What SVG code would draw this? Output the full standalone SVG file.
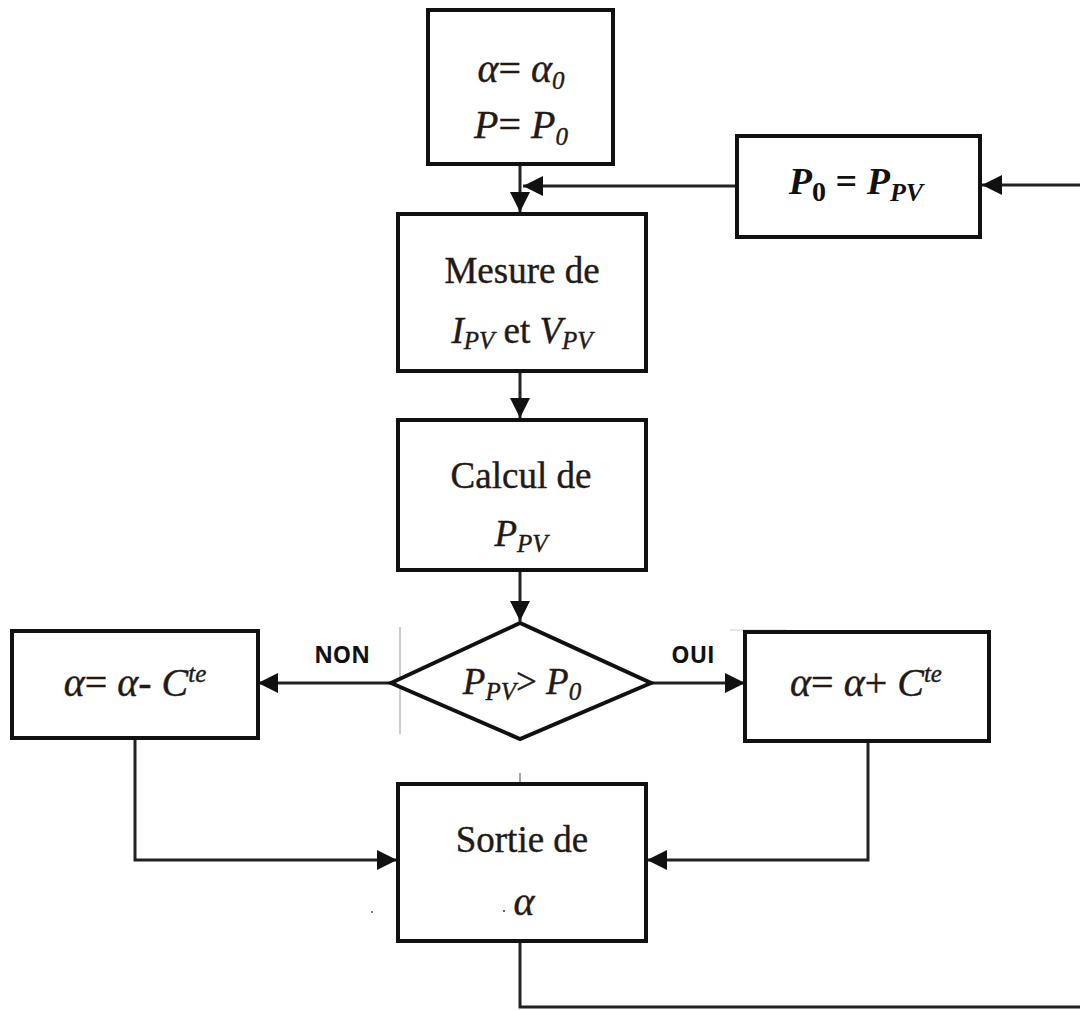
<svg xmlns="http://www.w3.org/2000/svg" width="1080" height="1010" viewBox="0 0 1080 1010">
<style>
.box{fill:#fff;stroke:#111;stroke-width:4}
.ln{fill:none;stroke:#222;stroke-width:3}
.t{font-family:"Liberation Serif",serif;font-size:37px;fill:#231a16;stroke:#231a16;stroke-width:0.4}
.m{font-size:40px}
.i{font-style:italic}
.s{font-size:25px;font-style:italic}
.lbl{font-family:"Open Sans","Liberation Sans",sans-serif;font-weight:bold;font-size:23px;fill:#111}
.bm{font-family:"Liberation Serif",serif;font-weight:bold;font-style:italic;font-size:38px;fill:#111}
</style>
<defs>
<marker id="ah" markerUnits="userSpaceOnUse" markerWidth="22" markerHeight="22" refX="20" refY="10" orient="auto">
<path d="M0,0 L20,10 L0,20 Z" fill="#111"/>
</marker>
</defs>
<rect width="1080" height="1010" fill="#fff"/>
<g id="connectors">
<path class="ln" d="M520,165 V212" marker-end="url(#ah)"/>
<path class="ln" d="M737,186 H523" marker-end="url(#ah)"/>
<path class="ln" d="M1080,185 H982" marker-end="url(#ah)"/>
<path class="ln" d="M520,372 V418" marker-end="url(#ah)"/>
<path class="ln" d="M520,571 V621" marker-end="url(#ah)"/>
<path class="ln" d="M391,683 H258" marker-end="url(#ah)"/>
<path class="ln" d="M651,683 H745" marker-end="url(#ah)"/>
<path class="ln" d="M135,738 V860 H397" marker-end="url(#ah)"/>
<path class="ln" d="M868,741 V860 H647" marker-end="url(#ah)"/>
<path class="ln" d="M520,941 V1007 H1080"/>
<line x1="400" y1="627" x2="400" y2="734" stroke="#999" stroke-width="1"/>
<line x1="730" y1="630" x2="786" y2="630" stroke="#ccc" stroke-width="1"/>
<line x1="520" y1="773" x2="520" y2="782" stroke="#888" stroke-width="1.5"/>
<circle cx="372" cy="912" r="1" fill="#555"/>
</g>
<g id="init">
<rect class="box" x="428" y="10" width="185" height="154"/>
<text class="t m" x="521" y="82" text-anchor="middle"><tspan class="i">α</tspan>= <tspan class="i">α</tspan><tspan class="s" dy="7">0</tspan></text>
<text class="t m" x="521" y="138" text-anchor="middle"><tspan class="i">P</tspan>= <tspan class="i">P</tspan><tspan class="s" dy="7">0</tspan></text>
</g>
<g id="update">
<rect class="box" x="737" y="136" width="243" height="101"/>
<text class="bm" x="856" y="194" text-anchor="middle">P<tspan font-size="28" font-style="normal" dy="7">0</tspan><tspan dy="-7" font-style="normal"> = </tspan>P<tspan font-size="26" dy="7">PV</tspan></text>
</g>
<g id="mesure">
<rect class="box" x="398" y="214" width="248" height="157"/>
<text class="t" x="522" y="283" text-anchor="middle">Mesure de</text>
<text class="t" x="522" y="343" text-anchor="middle"><tspan class="i">I</tspan><tspan class="s" dy="6">PV</tspan><tspan dy="-6"> et </tspan><tspan class="i">V</tspan><tspan class="s" dy="6">PV</tspan></text>
</g>
<g id="calcul">
<rect class="box" x="398" y="420" width="248" height="150"/>
<text class="t" x="521" y="488" text-anchor="middle">Calcul de</text>
<text class="t" x="521" y="546" text-anchor="middle"><tspan class="i">P</tspan><tspan class="s" dy="6">PV</tspan></text>
</g>
<g id="decision">
<polygon points="391,683 520,623 651,683 520,739" fill="#fff" stroke="#111" stroke-width="4" stroke-linejoin="miter"/>
<text class="t" x="522" y="694" text-anchor="middle"><tspan class="i">P</tspan><tspan class="s" dy="6">PV</tspan><tspan dy="-6">&gt; </tspan><tspan class="i">P</tspan><tspan class="s" dy="6">0</tspan></text>
</g>
<g id="minus">
<rect class="box" x="12" y="631" width="246" height="107"/>
<text class="t m" x="135" y="696" text-anchor="middle"><tspan class="i">α</tspan>= <tspan class="i">α</tspan>- <tspan class="i">C</tspan><tspan class="s" font-size="18" dy="-14">te</tspan></text>
</g>
<g id="plus">
<rect class="box" x="745" y="632" width="244" height="109"/>
<text class="t m" x="866" y="696" text-anchor="middle"><tspan class="i">α</tspan>= <tspan class="i">α</tspan>+ <tspan class="i">C</tspan><tspan class="s" font-size="18" dy="-14">te</tspan></text>
</g>
<g id="labels">
<text class="lbl" x="342" y="663" text-anchor="middle">NON</text>
<text class="lbl" x="693" y="663" text-anchor="middle">OUI</text>
</g>
<g id="sortie">
<rect class="box" x="398" y="784" width="248" height="157"/>
<text class="t" x="522" y="852" text-anchor="middle">Sortie de</text>
<text class="t m i" x="524" y="915" text-anchor="middle">α</text>
<circle cx="504" cy="911" r="1" fill="#333"/>
</g>
</svg>
